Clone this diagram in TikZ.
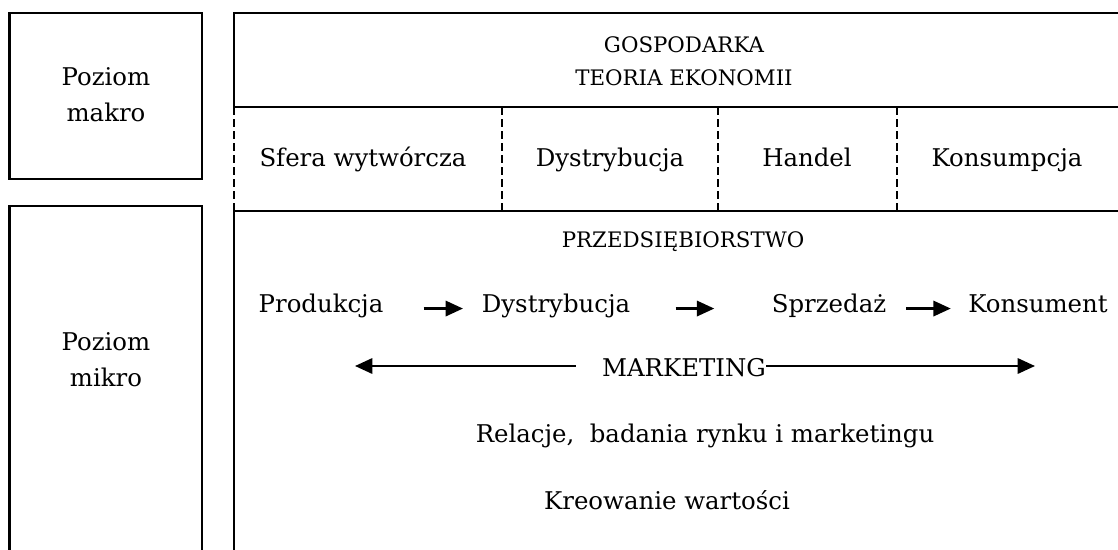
\documentclass[tikz,border=0pt]{standalone}
\usepackage{fontspec}
\setmainfont{DejaVu Serif}
\usetikzlibrary{arrows.meta}

\tikzset{
  txt/.style={inner sep=0pt, anchor=base, font=\fontsize{18.3}{27}\selectfont},
  twoline/.style={inner sep=0pt, align=center, font=\fontsize{18.3}{27}\selectfont},
  caps/.style={inner sep=0pt, anchor=base, font=\fontsize{16}{24.75}\selectfont},
  frame/.style={line width=1.6pt},
  divider/.style={line width=1.2pt, dash pattern=on 6pt off 3pt},
  flow/.style={line width=1.7pt, -{Triangle[length=13pt, width=11.5pt]}}
}

\begin{document}
\begin{tikzpicture}[x=0.75pt, y=-0.75pt]
    \useasboundingbox (0,0) rectangle (1118,550);
    \clip (0,0) rectangle (1118,550);

    % Level boxes on the left
    \draw[frame] (9.5,13) rectangle (202,179);
    \draw[frame] (9.5,206) rectangle (202,600);
    \node[twoline] (makro) at (106, 95) {Poziom\\makro};
    \node[twoline] (mikro) at (106, 360) {Poziom\\mikro};

    % Economy box and its dashed strip
    \draw[frame] (234,107) -- (234,13) -- (1130,13);
    \draw[frame] (234,107) -- (1130,107);
    \draw[frame] (234,600) -- (234,211) -- (1130,211);
    \foreach \x in {234, 502, 718, 897}
    \draw[divider] (\x,107) -- (\x,211);

    \node[twoline, font=\fontsize{16}{24.75}\selectfont]
      (gosp)
      at
      (684, 61)
      {GOSPODARKA\\TEORIA EKONOMII};

    \foreach \x/\name/\label in {363/sfera/Sfera wytwórcza, 610/dystr/Dystrybucja,
        807/handel/Handel, 1007/kons/Konsumpcja}
    \node[txt] (\name) at (\x, 166) {\label};

    % Enterprise
    \node[caps] (przeds) at (683, 247) {PRZEDSIĘBIORSTWO};

    \node[txt] (prod) at (321, 312) {Produkcja};
    \node[txt] (dys) at (556, 312) {Dystrybucja};
    \node[txt] (spr) at (829, 312) {Sprzedaż};
    \node[txt] (konsument) at (1038, 312) {Konsument};

    \draw[flow, shorten <=30pt, shorten >=14pt] (prod.mid east) -- (dys.mid west);
    \draw[flow, shorten <=34pt, shorten >=43pt] (dys.mid east) -- (spr.mid west);
    \draw[flow, shorten <=15pt, shorten >=13pt] (spr.mid east) -- (konsument.mid west);

    % Marketing across the chain
    \node[caps, font=\fontsize{18.3}{27}\selectfont] (mkt) at (684, 376) {MARKETING};
    \coordinate (mktL) at (355, 366);
    \coordinate (mktR) at (1035, 366);
    \draw[flow, shorten <=19.5pt] (mkt.west |- mktL) -- (mktL);
    \draw[flow] (mkt.east |- mktR) -- (mktR);

    \node[txt] (relacje) at (705, 442) {Relacje,\ \ badania rynku i marketingu};
    \node[txt] (kreow) at (667, 509) {Kreowanie wartości};
  \end{tikzpicture}
\end{document}
